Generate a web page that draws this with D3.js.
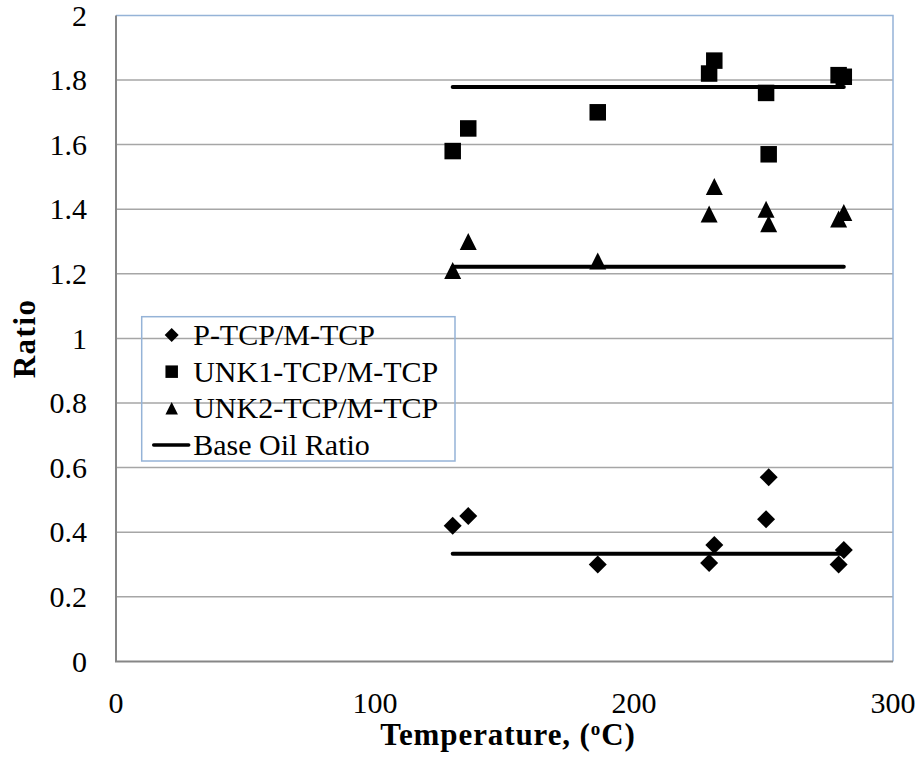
<!DOCTYPE html>
<html>
<head>
<meta charset="utf-8">
<script src="https://cdn.jsdelivr.net/npm/d3@7"></script>
<style>
  body { margin: 0; background: #fff; }
  text { font-family: "Liberation Serif", "Times New Roman", serif; fill: #000; }
</style>
</head>
<body>
<div id="chart"></div>
<script>
// Data
const temps = [130, 136, 186, 229, 231, 251, 252, 279, 281];
const pTcp = [0.42, 0.45, 0.30, 0.305, 0.36, 0.44, 0.57, 0.30, 0.345];
const unk1Tcp = [1.58, 1.65, 1.70, 1.82, 1.86, 1.76, 1.57, 1.815, 1.81];
const unk2Tcp = [1.21, 1.30, 1.24, 1.385, 1.47, 1.40, 1.355, 1.37, 1.39];

const baseTemps = [130, 281];
const baseRatios = [0.333, 1.778, 1.222];

const xTicks = [0, 100, 200, 300];
const yTicks = [0, 0.2, 0.4, 0.6, 0.8, 1, 1.2, 1.4, 1.6, 1.8, 2];

const legendLabels = ["P-TCP/M-TCP", "UNK1-TCP/M-TCP", "UNK2-TCP/M-TCP", "Base Oil Ratio"];

const W = 922, H = 759;
const margin = { top: 15.4, right: 29, bottom: 97.6, left: 116 };
const width = W - margin.left - margin.right;
const height = H - margin.top - margin.bottom;

const svg = d3.select("#chart").append("svg")
    .attr("width", W)
    .attr("height", H);

const chart = svg.append("g")
    .attr("transform", `translate(${margin.left},${margin.top})`);

const x = d3.scaleLinear().domain([0, 300]).range([0, width]);
const y = d3.scaleLinear().domain([0, 2]).range([height, 0]);

// Grid lines
chart.append("g")
    .selectAll("line")
    .data(yTicks.filter(d => d > 0 && d < 2))
    .join("line")
    .attr("x1", 0)
    .attr("x2", width)
    .attr("y1", d => y(d))
    .attr("y2", d => y(d))
    .attr("stroke", "#a6a6a6")
    .attr("stroke-width", 1.5);

// plot area border (top / right)
chart.append("path")
    .attr("d", `M0,${y(2)}H${width}V${height}`)
    .attr("fill", "none")
    .attr("stroke", "#95b3d7")
    .attr("stroke-width", 1.5);

// Axes lines
chart.append("path")
    .attr("d", `M0,${y(2)}V${height}H${width}`)
    .attr("fill", "none")
    .attr("stroke", "#868686")
    .attr("stroke-width", 2);

// Tick labels
chart.append("g")
    .selectAll("text")
    .data(yTicks)
    .join("text")
    .attr("x", -29)
    .attr("y", d => y(d))
    .attr("dy", "0.34em")
    .attr("text-anchor", "end")
    .attr("font-size", 30)
    .text(d => d3.format("")(d));

chart.append("g")
    .selectAll("text")
    .data(xTicks)
    .join("text")
    .attr("x", d => x(d))
    .attr("y", height + 51.5)
    .attr("text-anchor", "middle")
    .attr("font-size", 30)
    .text(d => d);

// Axis titles
svg.append("text")
    .attr("transform", `translate(35,${margin.top + height / 2}) rotate(-90)`)
    .attr("text-anchor", "middle")
    .attr("font-size", 31)
    .attr("letter-spacing", 1.5)
    .attr("font-weight", "bold")
    .text("Ratio");

const xt = svg.append("text")
    .attr("x", 508)
    .attr("y", 745)
    .attr("text-anchor", "middle")
    .attr("font-size", 31)
    .attr("letter-spacing", 0.9)
    .attr("font-weight", "bold");
xt.append("tspan").text("Temperature, (");
xt.append("tspan").attr("font-size", 19).attr("dy", -10).text("o");
xt.append("tspan").attr("dy", 10).text("C)");

// Marker shapes
function diamond(s) {
    const r = s / 2;
    return `M0,${-r}L${r},0L0,${r}L${-r},0Z`;
}
function square(s) {
    const r = s / 2;
    return `M${-r},${-r}H${r}V${r}H${-r}Z`;
}
function triangle(s) {
    const r = s / 2;
    return `M0,${-r}L${r},${r}L${-r},${r}Z`;
}

// Base oil ratio lines
const line = d3.line()
    .x(d => x(d[0]))
    .y(d => y(d[1]));

chart.append("g")
    .selectAll("path")
    .data(baseRatios)
    .join("path")
    .attr("d", r => line(baseTemps.map(t => [t, r])))
    .attr("fill", "none")
    .attr("stroke", "#000")
    .attr("stroke-width", 4)
    .attr("stroke-linecap", "round");

// Points
const series = [
    { values: pTcp, shape: diamond, size: 18 },
    { values: unk1Tcp, shape: square, size: 16.5 },
    { values: unk2Tcp, shape: triangle, size: 17 }
];

series.forEach(s => {
    chart.append("g")
        .selectAll("path")
        .data(s.values.map((v, i) => [temps[i], v]))
        .join("path")
        .attr("transform", d => `translate(${x(d[0])},${y(d[1])})`)
        .attr("d", s.shape(s.size))
        .attr("fill", "#000");
});

// Legend
const legend = svg.append("g").attr("transform", "translate(141.7,316.7)");
legend.append("rect")
    .attr("width", 313.3)
    .attr("height", 144.3)
    .attr("fill", "none")
    .attr("stroke", "#95b3d7")
    .attr("stroke-width", 1.5);

const rowY = d3.scaleLinear().domain([0, 3]).range([18.3, 128.3]);
const legendShapes = [diamond, square, triangle];

legendLabels.forEach((label, i) => {
    const cy = rowY(i);
    if (i < 3) {
        legend.append("path")
            .attr("transform", `translate(30,${cy})`)
            .attr("d", legendShapes[i](i === 0 ? 14 : 12.5))
            .attr("fill", "#000");
    } else {
        legend.append("line")
            .attr("x1", 12).attr("x2", 47)
            .attr("y1", cy).attr("y2", cy)
            .attr("stroke", "#000")
            .attr("stroke-width", 3.5)
            .attr("stroke-linecap", "round");
    }
    legend.append("text")
        .attr("x", 51.5)
        .attr("y", cy + 10)
        .attr("font-size", 30)
        .text(label);
});
</script>
</body>
</html>
